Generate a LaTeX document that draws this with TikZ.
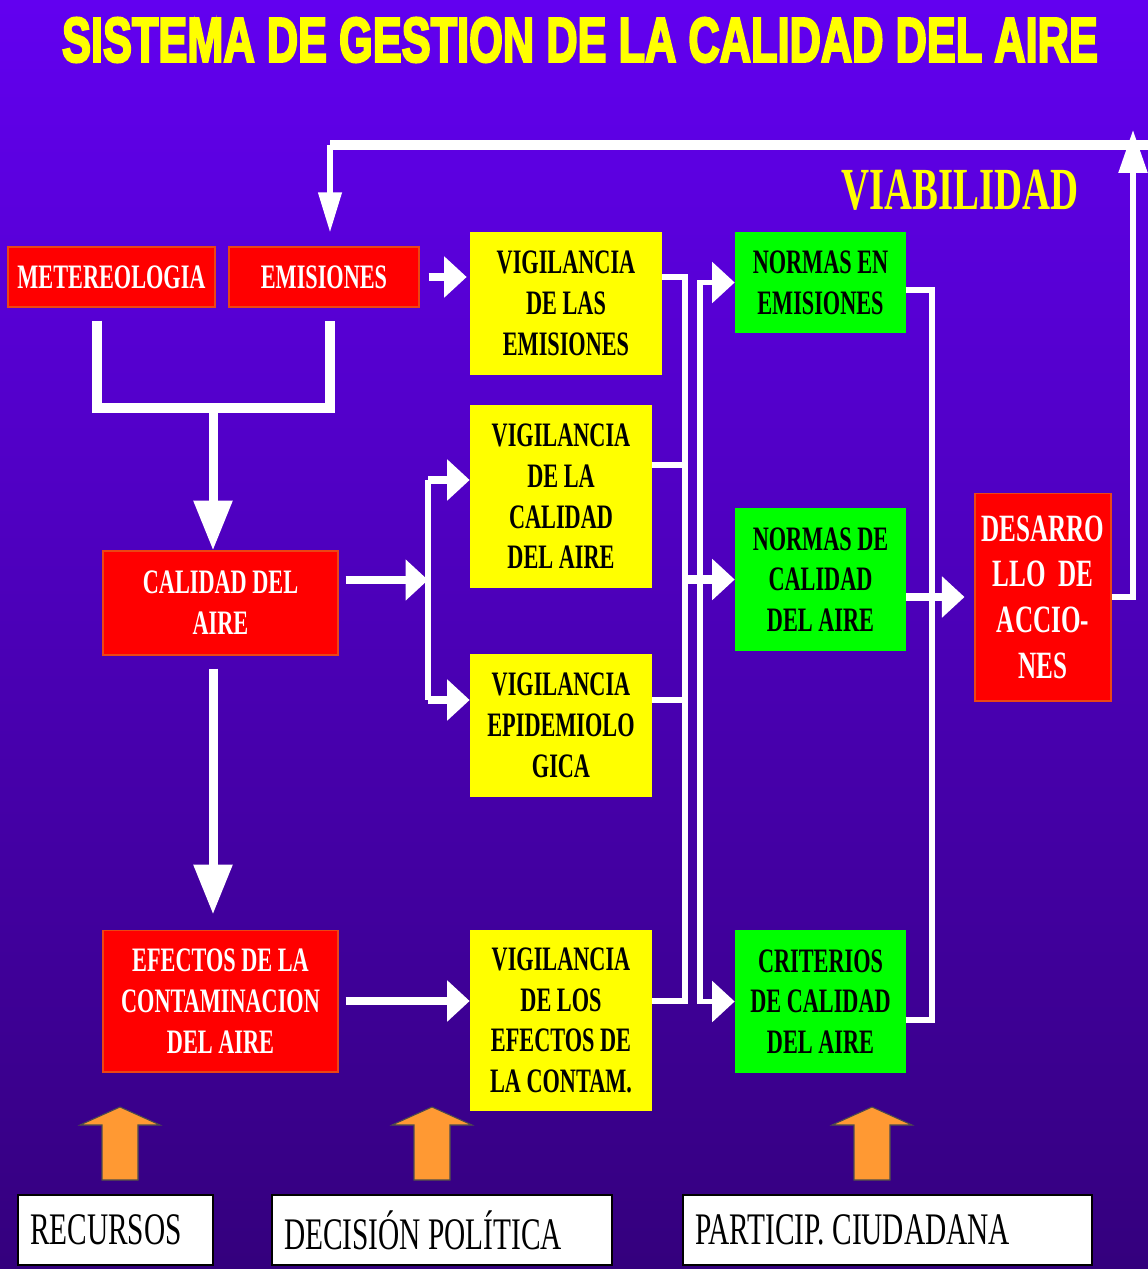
\documentclass[tikz,border=0pt]{standalone}
\usepackage{fontspec}
\usepackage{graphicx}
\usetikzlibrary{arrows.meta}
\newfontfamily\boxfont[FakeStretch=0.65]{Liberation Serif}
\newfontfamily\titlefont[FakeBold=4]{Liberation Sans}
\definecolor{bgtop}{RGB}{98,0,240}
\definecolor{bgbottom}{RGB}{52,0,125}
\definecolor{boxred}{RGB}{255,0,0}
\definecolor{rededge}{RGB}{235,70,20}
\definecolor{boxyellow}{RGB}{255,255,0}
\definecolor{boxgreen}{RGB}{0,255,0}
\definecolor{arroworange}{RGB}{255,153,51}
\tikzstyle{redbox} = [rectangle, fill=boxred, draw=rededge, line width=0.6pt, text=white, align=center, inner sep=2pt, font=\boxfont\bfseries\fontsize{19.5}{23.2}\selectfont]
\tikzstyle{yellowbox} = [rectangle, fill=boxyellow, text=black, align=center, inner sep=2pt, font=\boxfont\bfseries\fontsize{19.5}{23.2}\selectfont]
\tikzstyle{greenbox} = [rectangle, fill=boxgreen, text=black, align=center, inner sep=2pt, font=\boxfont\bfseries\fontsize{19.5}{23.2}\selectfont]
\tikzstyle{whitebox} = [rectangle, fill=white, draw=black, line width=1pt, align=flush left, inner xsep=0.24cm, font=\boxfont\fontsize{25.7}{30}\selectfont]
\tikzstyle{titletext} = [text=boxyellow, inner sep=0pt, font=\titlefont\bfseries]
\tikzstyle{viabtext} = [text=boxyellow, inner sep=0pt, font=\boxfont\bfseries\fontsize{34}{38}\selectfont]
\tikzstyle{arrow} = [white, line width=0.17cm, -{Triangle[length=0.45cm, width=0.8cm]}]
\tikzstyle{bigarrow} = [white, line width=0.18cm, -{Triangle[length=1cm, width=0.74cm]}]
\tikzstyle{busline} = [white, line width=0.11cm]
\tikzstyle{thickline} = [white, line width=0.2cm]
\tikzstyle{orangearrow} = [fill=arroworange, draw=black!70, line width=0.6pt]

\begin{document}
\begin{tikzpicture}[x=0.02cm, y=-0.02cm]
    \useasboundingbox (0,0) rectangle (1148,1269);
    \shade[top color=bgtop, bottom color=bgbottom] (0,0) rectangle (1148,1269);

    \node (title) [titletext] at (580,40) {\resizebox{20.72cm}{0.88cm}{SISTEMA DE GESTION DE LA CALIDAD DEL AIRE}};
    \node (viab) [viabtext] at (960,190) {VIABILIDAD};

    % red boxes
    \node (mete) [redbox, minimum width=4.14cm, minimum height=1.2cm] at (111.5,277) {METEREOLOGIA};
    \node (emis) [redbox, minimum width=3.8cm, minimum height=1.2cm] at (324,277) {EMISIONES};
    \node (cal) [redbox, minimum width=4.7cm, minimum height=2.08cm] at (220.5,603) {CALIDAD DEL\\AIRE};
    \node (efec) [redbox, minimum width=4.7cm, minimum height=2.84cm] at (220.5,1001) {EFECTOS DE LA\\CONTAMINACION\\DEL AIRE};
    \node (desa) [redbox, minimum width=2.72cm, minimum height=4.16cm, font=\boxfont\bfseries\fontsize{22}{26}\selectfont] at (1043,597) {DESARRO\\LLO~~DE\\ACCIO-\\NES};

    % yellow boxes
    \node (vig1) [yellowbox, minimum width=3.84cm, minimum height=2.86cm] at (566,303.5) {VIGILANCIA\\DE LAS\\EMISIONES};
    \node (vig2) [yellowbox, minimum width=3.64cm, minimum height=3.66cm] at (561,496.5) {VIGILANCIA\\DE LA\\CALIDAD\\DEL AIRE};
    \node (vig3) [yellowbox, minimum width=3.64cm, minimum height=2.86cm] at (561,725.5) {VIGILANCIA\\EPIDEMIOLO\\GICA};
    \node (vig4) [yellowbox, minimum width=3.64cm, minimum height=3.62cm] at (561,1020.5) {VIGILANCIA\\DE LOS\\EFECTOS DE\\LA CONTAM.};

    % green boxes
    \node (nem) [greenbox, minimum width=3.42cm, minimum height=2.02cm] at (820.5,282.5) {NORMAS EN\\EMISIONES};
    \node (ncal) [greenbox, minimum width=3.42cm, minimum height=2.86cm] at (820.5,579.5) {NORMAS DE\\CALIDAD\\DEL AIRE};
    \node (crit) [greenbox, minimum width=3.42cm, minimum height=2.86cm] at (820.5,1001.5) {CRITERIOS\\DE CALIDAD\\DEL AIRE};

    % white boxes
    \node (rec) [whitebox, text width=3.42cm, minimum height=1.4cm] at (115.5,1230) {RECURSOS};
    \node (dec) [whitebox, text width=6.32cm, minimum height=1.4cm] at (442,1230) {DECISIÓN POLÍTICA};
    \node (part) [whitebox, text width=7.7cm, minimum height=1.4cm] at (887.5,1230) {PARTICIP.\ CIUDADANA};

    % junction points
    \coordinate (loopR) at (1133,597);
    \coordinate (loopTop) at (1133,130);
    \coordinate (barR) at (1148,145);
    \coordinate (barL) at (330,145);
    \coordinate (joinL) at (97,408);
    \coordinate (joinR) at (330,408);
    \coordinate (joinM) at (213,408);
    \coordinate (splitUp) at (428,480);
    \coordinate (splitMid) at (428,580);
    \coordinate (splitLow) at (428,700);
    \coordinate (colA) at (685,0);
    \coordinate (vig2out) at (685,465);
    \coordinate (colB) at (700,0);
    \coordinate (colC) at (932,0);

    % feedback loop
    \draw [busline, -{Triangle[length=0.86cm, width=0.56cm]}] (desa.east) -- (loopR) -- (loopTop);
    \draw [thickline] (barR) -- (barL);
    \draw [busline, shorten >=0.28cm, -{Triangle[length=0.8cm, width=0.45cm]}] (barL) -- (barL |- emis.north);

    % left column
    \draw [thickline, shorten <=0.26cm, shorten >=0.26cm] (mete.south -| joinL) -- (joinL) -- (joinR) -- (emis.south -| joinR);
    \draw [bigarrow] (joinM) -- (cal.north -| joinM);
    \draw [bigarrow, shorten <=0.26cm, shorten >=0.3cm] (cal.south -| joinM) -- (efec.north -| joinM);
    \draw [arrow, shorten <=0.18cm, shorten >=0.06cm] (emis.east) -- (vig1.west |- emis.east);
    \draw [arrow, shorten <=0.14cm] (cal.east |- splitMid) -- (splitMid);
    \draw [busline] (splitUp) -- (splitLow);
    \draw [arrow] (splitUp) -- (vig2.west |- splitUp);
    \draw [arrow] (splitLow) -- (vig3.west |- splitLow);
    \draw [arrow, shorten <=0.14cm] (efec.east) -- (vig4.west |- efec.east);

    % yellow to green
    \draw [busline] (vig1.east |- emis) -- (colA |- emis) -- (colA |- efec) -- (vig4.east |- efec);
    \draw [busline] (vig2.east |- vig2out) -- (vig2out);
    \draw [busline] (vig3.east |- splitLow) -- (colA |- splitLow);
    \draw [arrow] (colA |- ncal) -- (ncal.west);
    \draw [busline, {Triangle[length=0.45cm, width=0.8cm]}-{Triangle[length=0.45cm, width=0.8cm]}] (nem.west) -| (colB |- crit) -- (crit.west);

    % green to desarrollo
    \draw [busline] ([yshift=-0.15cm]nem.east) -| ([yshift=-0.37cm]colC |- crit.east) -- ([yshift=-0.37cm]crit.east);
    \draw [arrow, shorten >=0.2cm] (ncal.east |- desa) -- (desa.west);

    % orange arrows
    \foreach \ax in {120,432,872}
        \draw [orangearrow] (\ax-18,1180) -- (\ax-18,1125) -- (\ax-40,1125) -- (\ax,1107) -- (\ax+40,1125) -- (\ax+18,1125) -- (\ax+18,1180) -- cycle;
\end{tikzpicture}
\end{document}
